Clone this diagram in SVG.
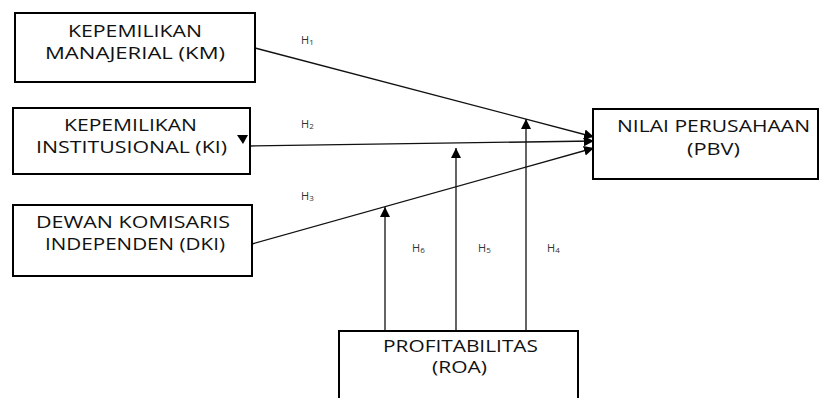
<svg xmlns="http://www.w3.org/2000/svg" width="820" height="398" viewBox="0 0 820 398">
<style>
.box{fill:#fff;stroke:#000;stroke-width:2}
.lbl{font-family:"Open Sans","Liberation Sans",sans-serif;font-size:16.5px;fill:#111;text-anchor:middle}
.h{font-family:"Open Sans","Liberation Sans",sans-serif;font-size:11px;fill:#333}
.h tspan{font-size:8px}
.con{stroke:#111;stroke-width:1.3;fill:none;marker-end:url(#arr)}
</style>
<defs>
<marker id="arr" viewBox="0 0 10 10" refX="10" refY="5" markerWidth="10" markerHeight="11" markerUnits="userSpaceOnUse" orient="auto">
<path d="M0,0 L10,5 L0,10 z" fill="#000"/>
</marker>
</defs>
<rect width="820" height="398" fill="#fff"/>
<g id="connectors">
<line class="con" x1="255" y1="48" x2="594" y2="137"/>
<line class="con" x1="250" y1="146" x2="594" y2="141"/>
<line class="con" x1="252" y1="244" x2="594" y2="148"/>
<line class="con" x1="385" y1="331" x2="385" y2="207"/>
<line class="con" x1="456" y1="331" x2="456" y2="148"/>
<line class="con" x1="526" y1="331" x2="526" y2="119"/>
</g>
<g id="km">
<rect class="box" x="15" y="13" width="240" height="69"/>
<text class="lbl" x="135" y="37" textLength="134" lengthAdjust="spacingAndGlyphs">KEPEMILIKAN</text>
<text class="lbl" x="135" y="59" textLength="180" lengthAdjust="spacingAndGlyphs">MANAJERIAL (KM)</text>
</g>
<g id="ki">
<rect class="box" x="13" y="108" width="237" height="66"/>
<text class="lbl" x="130.5" y="131" textLength="133" lengthAdjust="spacingAndGlyphs">KEPEMILIKAN</text>
<text class="lbl" x="131.5" y="153" textLength="191" lengthAdjust="spacingAndGlyphs">INSTITUSIONAL (KI)</text>
<polygon points="237,135 248,135 243,144" fill="#000"/>
</g>
<g id="dki">
<rect class="box" x="13" y="205" width="239" height="71"/>
<text class="lbl" x="133" y="228" textLength="194" lengthAdjust="spacingAndGlyphs">DEWAN KOMISARIS</text>
<text class="lbl" x="135" y="250" textLength="180" lengthAdjust="spacingAndGlyphs">INDEPENDEN (DKI)</text>
</g>
<g id="pbv">
<rect class="box" x="593" y="109" width="225" height="70"/>
<text class="lbl" x="713.5" y="132" textLength="193" lengthAdjust="spacingAndGlyphs">NILAI PERUSAHAAN</text>
<text class="lbl" x="713.5" y="155" textLength="53" lengthAdjust="spacingAndGlyphs">(PBV)</text>
</g>
<g id="roa">
<rect class="box" x="339" y="331" width="239" height="80"/>
<text class="lbl" x="460.5" y="352" textLength="155" lengthAdjust="spacingAndGlyphs">PROFITABILITAS</text>
<text class="lbl" x="459.5" y="373" textLength="55" lengthAdjust="spacingAndGlyphs">(ROA)</text>
</g>
<g id="labels">
<text class="h" x="301" y="44">H<tspan dy="1">1</tspan></text>
<text class="h" x="301" y="128">H<tspan dy="1">2</tspan></text>
<text class="h" x="301" y="200">H<tspan dy="1">3</tspan></text>
<text class="h" x="547" y="252">H<tspan dy="1">4</tspan></text>
<text class="h" x="478" y="252">H<tspan dy="1">5</tspan></text>
<text class="h" x="412" y="252">H<tspan dy="1">6</tspan></text>
</g>
</svg>
